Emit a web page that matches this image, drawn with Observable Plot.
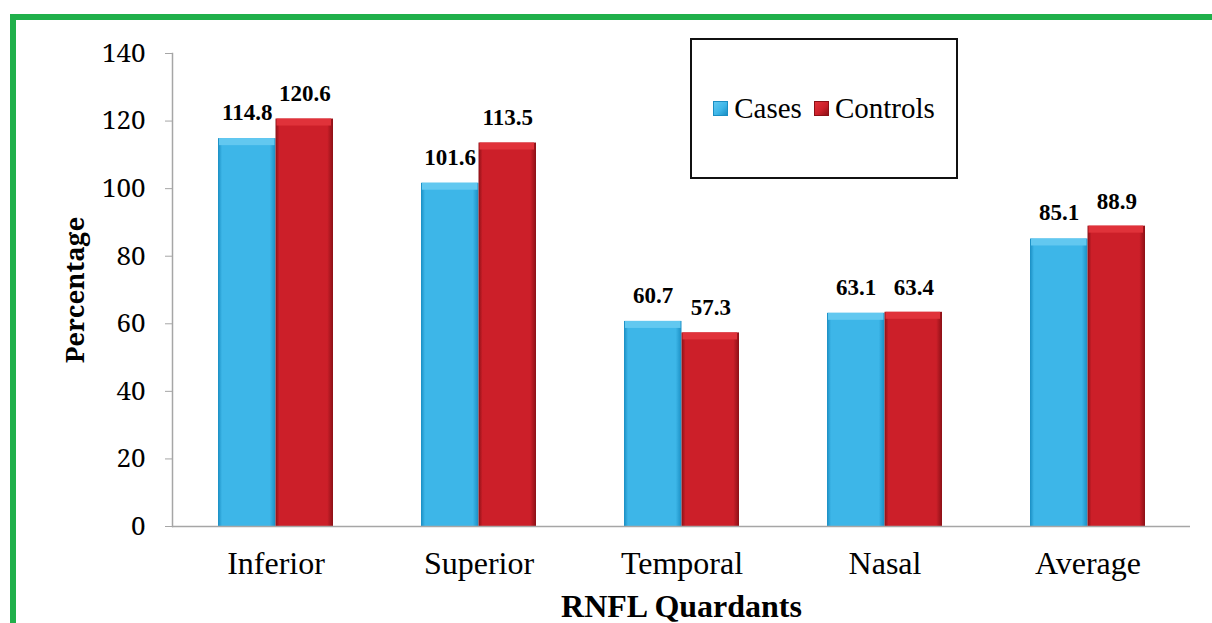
<!DOCTYPE html>
<html>
<head>
<meta charset="utf-8">
<script src="https://cdn.jsdelivr.net/npm/d3@7"></script>
<script src="https://cdn.jsdelivr.net/npm/@observablehq/plot@0.6"></script>
<style>
  html, body { margin: 0; padding: 0; background: #fff; }
  #wrap { position: relative; width: 1212px; height: 623px; overflow: hidden; background: #fff; }
  #wrap svg { position: absolute; left: 0; top: 0; }
  #border { position: absolute; left: 10px; top: 14px; width: 1210px; height: 620px;
            border-left: 6px solid #20b04b; border-top: 6px solid #20b04b; box-sizing: border-box; pointer-events: none; }
  #legend { position: absolute; left: 690px; top: 38px; width: 268px; height: 141px; box-sizing: border-box;
            border: 2px solid #111; background: #fff; display: flex; align-items: center; justify-content: center;
            font-family: "Liberation Serif", serif; font-size: 29px; color: #000; }
  .item { display: flex; align-items: center; margin: 0 6px; }
  .sw { width: 15px; height: 15px; margin-right: 6px; box-sizing: border-box; }
</style>
</head>
<body>
<div id="wrap"></div>
<script>
const categories = ["Inferior", "Superior", "Temporal", "Nasal", "Average"];
const series = ["Cases", "Controls"];
const cases = [114.8, 101.6, 60.7, 63.1, 85.1];
const controls = [120.6, 113.5, 57.3, 63.4, 88.9];
const yTicks = [0, 20, 40, 60, 80, 100, 120, 140];
const colors = {Cases: "#3db6e8", Controls: "#cc1f29"};
const edges = {Cases: "#1a8ec3", Controls: "#8c1016"};
const tops = {Cases: "#62c8f0", Controls: "#e0323a"};

const W = 1212, H = 623;
const margin = {top: 53, right: 22, bottom: 97, left: 172};
const padInner = 0.435, padOuter = 0.2175;
const step = (W - margin.left - margin.right) / (categories.length - padInner + 2 * padOuter);
const bw = step * (1 - padInner);
const half = bw / 2;

const casesData = categories.map((c, i) => ({cat: c, series: "Cases", value: cases[i]}));
const controlsData = categories.map((c, i) => ({cat: c, series: "Controls", value: controls[i]}));

const plot = Plot.plot({
  width: W,
  height: H,
  marginTop: margin.top,
  marginRight: margin.right,
  marginBottom: margin.bottom,
  marginLeft: margin.left,
  style: {fontFamily: "'Liberation Serif', serif", background: "transparent", color: "#000"},
  x: {domain: categories, paddingInner: padInner, paddingOuter: padOuter, align: 0.5},
  y: {domain: [0, 140]},
  marks: [
    Plot.axisY({ticks: yTicks, tickSize: 7, tickPadding: 20, stroke: "#a6a6a6", fill: "#000",
                fontSize: 26, fontFamily: "'Noto Serif', serif", label: null}),
    Plot.axisX({tickSize: 0, tickPadding: 25, fontSize: 32, label: null}),
    Plot.barY(casesData, {x: "cat", y: "value", fill: "url(#gCases)", insetRight: half}),
    Plot.barY(controlsData, {x: "cat", y: "value", fill: "url(#gControls)", insetLeft: half}),
    Plot.barY(casesData, {x: "cat", y1: "value", y2: "value", fill: tops.Cases, insetRight: half + 1, insetLeft: 1, insetBottom: -7}),
    Plot.barY(controlsData, {x: "cat", y1: "value", y2: "value", fill: tops.Controls, insetLeft: half + 1, insetRight: 2, insetBottom: -7}),
    Plot.ruleY([0], {stroke: "#a6a6a6", strokeWidth: 1.5}),
    Plot.frame({anchor: "left", stroke: "#a6a6a6", strokeWidth: 1.5}),
    Plot.text(casesData, {x: "cat", y: "value", text: d => d.value.toFixed(1), dx: -half / 2, dy: -26,
                          fontSize: 23, fontWeight: "bold", fontFamily: "'Liberation Serif', serif", lineAnchor: "middle"}),
    Plot.text(controlsData, {x: "cat", y: "value", text: d => d.value.toFixed(1), dx: half / 2, dy: -25,
                             fontSize: 23, fontWeight: "bold", fontFamily: "'Liberation Serif', serif", lineAnchor: "middle"}),
    Plot.text(["RNFL Quardants"], {frameAnchor: "bottom", dy: 80, fontSize: 32, fontWeight: "bold", lineAnchor: "middle"}),
    Plot.text(["Percentage"], {frameAnchor: "left", dx: -97, rotate: -90, textAnchor: "middle", fontSize: 26,
                               fontWeight: "bold", fontFamily: "'Noto Serif', serif", lineAnchor: "middle"})
  ]
});

// gradients for a bevelled look
const defs = d3.select(plot).insert("defs", ":first-child");
for (const s of series) {
  const g = defs.append("linearGradient").attr("id", "g" + s).attr("x1", 0).attr("x2", 1).attr("y1", 0).attr("y2", 0);
  g.append("stop").attr("offset", "0%").attr("stop-color", edges[s]);
  g.append("stop").attr("offset", "7%").attr("stop-color", colors[s]);
  g.append("stop").attr("offset", "90%").attr("stop-color", colors[s]);
  g.append("stop").attr("offset", "100%").attr("stop-color", edges[s]);
}

const wrap = document.getElementById("wrap");
wrap.appendChild(plot);

const border = document.createElement("div");
border.id = "border";
wrap.appendChild(border);

const legend = document.createElement("div");
legend.id = "legend";
for (const s of series) {
  const item = document.createElement("div");
  item.className = "item";
  const sw = document.createElement("div");
  sw.className = "sw";
  sw.style.background = `linear-gradient(135deg, ${tops[s]} 0%, ${colors[s]} 55%, ${edges[s]} 100%)`;
  sw.style.border = `1px solid ${edges[s]}`;
  const t = document.createElement("span");
  t.textContent = s;
  item.appendChild(sw);
  item.appendChild(t);
  legend.appendChild(item);
}
wrap.appendChild(legend);
</script>
</body>
</html>
